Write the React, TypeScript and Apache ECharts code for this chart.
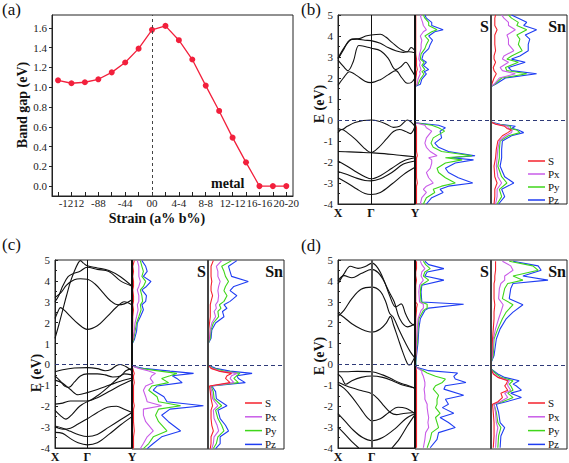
import React, { useEffect, useRef } from "react";
import * as echarts from "echarts";

const FONT = "Liberation Serif";

// ---------- panel (a) ----------
const strain = [-14, -12, -10, -8, -6, -4, -2, 0, 2, 4, 6, 8, 10, 12, 14, 16, 18, 20];
const bandGap = [1.07, 1.04, 1.05, 1.08, 1.15, 1.25, 1.39, 1.58, 1.62, 1.475, 1.28, 1.016, 0.76, 0.49, 0.24, 0, 0, 0];
const strainTickValues = [-12, -8, -4, 0, 4, 8, 12, 16, 20];
const strainTickLabels = ["-1212", "-88", "-44", "00", "4-4", "8-8", "12-12", "16-16", "20-20"];
const gapTickValues = [0, 0.2, 0.4, 0.6, 0.8, 1.0, 1.2, 1.4, 1.6];

const kLabels = ["X", "Γ", "Y"];
const dosNames = ["S", "Px", "Py", "Pz"];

// ---------- panel (b) bands ----------
const bBands = [
  [[0, 1.65], [0.07, 2.0], [0.15, 2.3], [0.25, 2.1], [0.35, 1.85], [0.43, 1.78], [0.55, 1.92], [0.65, 2.15], [0.75, 2.35], [0.83, 2.0], [0.9, 1.75], [0.95, 1.78], [1, 2.0]],
  [[0, 2.85], [0.07, 2.55], [0.13, 2.35], [0.2, 2.8], [0.27, 3.55], [0.35, 3.5], [0.43, 3.42], [0.55, 3.3], [0.65, 2.95], [0.75, 2.4], [0.82, 2.55], [0.88, 2.75], [0.95, 2.4], [1, 2.1]],
  [[0, 2.9], [0.08, 3.4], [0.15, 3.8], [0.25, 3.85], [0.35, 3.8], [0.43, 3.78], [0.55, 3.65], [0.65, 3.45], [0.75, 3.3], [0.85, 3.22], [0.92, 3.25], [1, 3.2]],
  [[0, 2.95], [0.1, 3.55], [0.18, 3.85], [0.28, 3.88], [0.36, 4.0], [0.43, 4.05], [0.55, 4.08], [0.62, 3.95], [0.7, 3.7], [0.8, 3.4], [0.9, 3.25], [0.95, 3.45], [1, 3.3]],
  [[0, -0.4], [0.05, -0.45], [0.12, -0.3], [0.22, -0.12], [0.33, -0.02], [0.43, 0], [0.53, -0.06], [0.63, -0.2], [0.72, -0.35], [0.8, -0.3], [0.86, -0.1], [0.9, 0], [0.95, -0.1], [1, -0.3]],
  [[0, -0.6], [0.05, -0.45], [0.12, -0.6], [0.22, -0.9], [0.33, -1.3], [0.43, -1.55], [0.53, -1.3], [0.63, -0.9], [0.72, -0.55], [0.8, -0.45], [0.88, -0.55], [0.94, -0.65], [1, -0.3]],
  [[0, -1.5], [0.15, -1.52], [0.3, -1.54], [0.43, -1.56], [0.6, -1.6], [0.8, -1.68], [1, -1.75]],
  [[0, -1.95], [0.12, -2.2], [0.25, -2.5], [0.35, -2.7], [0.43, -2.8], [0.55, -2.65], [0.7, -2.3], [0.85, -1.95], [1, -1.8]],
  [[0, -2.45], [0.12, -2.6], [0.25, -2.78], [0.35, -2.88], [0.43, -2.9], [0.55, -2.8], [0.7, -2.5], [0.85, -2.1], [1, -1.95]],
  [[0, -2.75], [0.12, -3.0], [0.25, -3.3], [0.35, -3.5], [0.43, -3.55], [0.55, -3.45], [0.7, -3.05], [0.85, -2.6], [1, -2.25]],
];

// ---------- panel (b) DOS ----------
const bS_E = [-4.0, -3.7, -3.45, -3.3, -3.15, -3.0, -2.75, -2.5, -2.3, -2.05, -1.9, -1.8, -1.7, -1.5, -1.3, -1.1, -0.85, -0.53, -0.37, -0.25, -0.13, 1.6, 1.7, 1.95, 2.2, 2.3, 2.4, 2.6, 2.75, 2.9, 3.15, 3.4, 3.6, 3.8, 4.0, 4.2, 4.3, 4.5, 4.65, 4.85, 5.0];
const bS_Pz = [15, 22, 37, 33, 44, 76, 57, 44, 40, 53, 77, 48, 79, 44, 31, 26, 35, 33, 40, 31, 0, 0, 7, 9, 15, 12, 18, 11, 15, 9, 11, 18, 20, 23, 18, 26, 37, 22, 22, 15, 13];
const bS_Py = [11, 15, 26, 24, 35, 53, 40, 31, 29, 40, 62, 40, 75, 35, 24, 21, 24, 39, 31, 22, 0, 0, 4, 7, 12, 9, 13, 9, 12, 7, 8, 13, 15, 18, 13, 22, 29, 18, 18, 13, 11];
const bS_Px = [7, 9, 15, 11, 15, 24, 18, 15, 20, 22, 22, 18, 29, 20, 15, 13, 15, 22, 15, 13, 0, 0, 3, 4, 7, 6, 8, 6, 7, 5, 6, 8, 8, 9, 7, 11, 15, 11, 10, 8, 7];
const bS_S = [2, 2, 2, 2, 2, 3, 2, 2, 2, 2, 2, 2, 3, 2, 2, 2, 2, 2, 2, 1, 0, 0, 1, 1, 2, 2, 3, 2, 2, 2, 1, 1, 1, 1, 1, 1, 1, 1, 1, 1, 1];

const bSn_E = [-4.0, -3.65, -3.3, -3.0, -2.7, -2.2, -1.8, -1.4, -1.0, -0.75, -0.6, -0.48, -0.4, -0.3, -0.2, -0.1, 1.6, 1.7, 2.0, 2.2, 2.35, 2.5, 2.75, 2.9, 3.05, 3.3, 3.6, 3.85, 4.05, 4.3, 4.5, 4.65, 4.85, 5.0];
const bSn_Pz = [10, 18, 14, 30, 18, 12, 14, 14, 15, 27, 43, 36, 27, 32, 12, 0, 0, 6, 19, 60, 27, 23, 45, 27, 38, 49, 49, 51, 45, 60, 43, 47, 36, 27];
const bSn_Py = [8, 14, 11, 21, 14, 9, 11, 11, 12, 23, 38, 34, 25, 26, 9, 0, 0, 5, 14, 47, 21, 19, 36, 21, 27, 41, 36, 38, 34, 47, 34, 36, 27, 23];
const bSn_Px = [6, 8, 8, 14, 9, 7, 8, 9, 11, 19, 27, 28, 23, 22, 8, 0, 0, 4, 11, 32, 15, 12, 23, 15, 17, 30, 23, 23, 21, 32, 23, 23, 17, 14];
const bSn_S = [4, 5, 5, 8, 5, 4, 6, 7, 9, 15, 22, 27, 21, 18, 6, 0, 0, 1, 4, 7, 4, 3, 6, 4, 4, 6, 5, 5, 5, 8, 5, 5, 5, 6];

// ---------- panel (c) bands ----------
const cBands = [
  [[0, 1.25], [0.05, 1.9], [0.1, 2.6], [0.15, 3.3], [0.2, 3.95], [0.25, 4.45], [0.3, 4.85], [0.33, 4.97], [0.37, 4.85], [0.42, 4.72], [0.55, 4.62], [0.7, 4.5], [0.85, 4.2], [1, 3.75]],
  [[0, 3.0], [0.05, 3.3], [0.1, 3.75], [0.17, 4.2], [0.24, 4.35], [0.32, 4.45], [0.42, 4.65], [0.55, 4.55], [0.7, 4.45], [0.85, 4.0], [1, 3.75]],
  [[0, 3.2], [0.08, 3.45], [0.15, 3.8], [0.25, 4.05], [0.33, 4.1], [0.42, 4.08], [0.52, 3.85], [0.62, 3.45], [0.72, 3.05], [0.82, 2.85], [0.9, 2.9], [1, 3.1]],
  [[0, 2.2], [0.04, 2.55], [0.07, 2.72], [0.12, 2.6], [0.2, 2.3], [0.3, 1.95], [0.42, 1.68], [0.55, 1.85], [0.68, 2.3], [0.8, 2.75], [0.9, 3.0], [1, 2.85]],
  [[0, -0.35], [0.1, -0.25], [0.25, -0.17], [0.42, -0.15], [0.55, -0.2], [0.65, -0.3], [0.72, -0.25], [0.8, -0.05], [0.85, 0], [0.92, -0.1], [1, -0.3]],
  [[0, -0.55], [0.07, -0.8], [0.13, -1.05], [0.18, -1.1], [0.25, -0.85], [0.33, -0.55], [0.42, -0.45], [0.55, -0.45], [0.65, -0.5], [0.75, -0.6], [0.85, -0.55], [0.92, -0.3], [1, -0.2]],
  [[0, -0.75], [0.1, -0.9], [0.2, -1.2], [0.3, -1.45], [0.42, -1.35], [0.55, -1.2], [0.7, -1.0], [0.85, -0.8], [1, -0.65]],
  [[0, -1.9], [0.1, -1.85], [0.2, -1.75], [0.3, -1.75], [0.42, -1.75], [0.55, -1.5], [0.7, -1.05], [0.82, -0.65], [0.9, -0.45], [1, -0.5]],
  [[0, -2.2], [0.07, -2.45], [0.14, -2.62], [0.22, -2.4], [0.32, -2.0], [0.42, -1.78], [0.55, -1.6], [0.7, -1.3], [0.85, -1.0], [1, -0.75]],
  [[0, -3.0], [0.1, -3.1], [0.2, -3.05], [0.3, -2.85], [0.42, -2.6], [0.55, -2.3], [0.68, -2.05], [0.8, -2.0], [0.9, -2.15], [1, -2.3]],
  [[0, -2.95], [0.1, -3.05], [0.2, -3.2], [0.3, -3.35], [0.42, -3.45], [0.55, -3.35], [0.7, -3.0], [0.85, -2.65], [1, -2.3]],
  [[0, -3.25], [0.1, -3.3], [0.2, -3.55], [0.3, -3.75], [0.42, -3.85], [0.55, -3.75], [0.7, -3.35], [0.85, -2.9], [1, -2.5]],
];

// ---------- panel (c) DOS ----------
const cS_E = [-3.98, -3.74, -3.42, -3.14, -2.7, -2.39, -2.1, -1.94, -1.75, -1.51, -1.2, -1.0, -0.84, -0.64, -0.51, -0.4, -0.29, -0.16, -0.05, 0.99, 1.2, 1.6, 2.0, 2.3, 2.63, 2.87, 3.03, 3.3, 3.58, 3.74, 3.98, 4.22, 4.46, 4.7, 4.97];
const cS_Pz = [20, 28, 39, 64, 48, 39, 50, 94, 46, 42, 28, 33, 66, 59, 53, 81, 50, 15, 0, 0, 3, 6, 7, 11, 15, 13, 18, 19, 13, 19, 25, 15, 20, 18, 13];
const cS_Py = [15, 22, 28, 46, 35, 31, 35, 64, 35, 33, 22, 26, 48, 39, 50, 59, 37, 11, 0, 0, 2, 4, 6, 9, 12, 11, 14, 13, 11, 15, 18, 13, 15, 13, 11];
const cS_Px = [11, 15, 20, 28, 18, 15, 15, 39, 20, 18, 15, 18, 28, 24, 26, 31, 22, 9, 0, 0, 1, 3, 4, 6, 8, 7, 9, 9, 7, 9, 11, 9, 9, 9, 7];
const cS_S = [2, 2, 2, 3, 2, 2, 2, 3, 2, 2, 2, 2, 3, 2, 2, 3, 2, 1, 0, 0, 1, 1, 1, 1, 2, 1, 2, 2, 1, 2, 2, 1, 2, 1, 3];

const cSn_E = [-3.98, -3.74, -3.42, -3.14, -2.87, -2.55, -2.15, -1.94, -1.6, -1.27, -1.0, -0.84, -0.64, -0.51, -0.4, -0.29, -0.16, 0.0, 1.0, 1.27, 1.67, 2.0, 2.3, 2.55, 2.7, 2.87, 3.03, 3.3, 3.54, 3.74, 3.98, 4.22, 4.46, 4.7, 4.97];
const cSn_Pz = [10, 16, 16, 27, 23, 16, 13, 25, 11, 10, 5, 49, 40, 38, 58, 29, 10, 0, 0, 4, 5, 10, 21, 19, 25, 21, 29, 38, 29, 34, 53, 31, 29, 27, 38];
const cSn_Py = [7, 11, 13, 21, 18, 13, 10, 18, 8, 7, 4, 40, 34, 38, 42, 21, 7, 0, 0, 3, 4, 7, 14, 13, 17, 15, 21, 25, 21, 23, 27, 23, 21, 18, 31];
const cSn_Px = [5, 7, 8, 14, 12, 8, 7, 13, 6, 5, 3, 34, 29, 31, 38, 16, 5, 0, 0, 2, 3, 5, 10, 8, 11, 10, 13, 14, 13, 14, 16, 13, 13, 11, 18];
const cSn_S = [3, 4, 4, 7, 5, 4, 4, 6, 4, 3, 2, 29, 23, 25, 31, 14, 4, 0, 0, 1, 1, 2, 3, 3, 3, 3, 4, 6, 4, 4, 5, 4, 4, 4, 7];

// ---------- panel (d) bands ----------
const dBands = [
  [[0, 2.45], [0.08, 2.25], [0.18, 1.95], [0.3, 1.7], [0.44, 1.55], [0.55, 1.7], [0.63, 2.0], [0.68, 2.3], [0.72, 1.9], [0.78, 1.25], [0.84, 0.6], [0.9, 0.05], [0.93, -0.03], [0.97, 0.15], [1, 0.4]],
  [[0, 2.3], [0.08, 2.6], [0.18, 3.15], [0.3, 3.6], [0.44, 3.7], [0.55, 3.5], [0.62, 3.0], [0.67, 2.45], [0.72, 2.25], [0.8, 1.6], [0.88, 1.0], [0.94, 0.6], [1, 0.3]],
  [[0, 3.85], [0.08, 4.35], [0.16, 4.7], [0.26, 4.6], [0.36, 4.7], [0.44, 4.85], [0.52, 4.6], [0.6, 4.0], [0.67, 3.3], [0.75, 2.75], [0.82, 2.9], [0.88, 2.4], [0.94, 2.0], [1, 1.85]],
  [[0, 4.0], [0.08, 4.25], [0.18, 4.15], [0.3, 4.35], [0.44, 4.55], [0.52, 4.4], [0.58, 4.1], [0.66, 3.5], [0.73, 3.0], [0.8, 2.2], [0.9, 1.8], [1, 1.95]],
  [[0, -0.35], [0.1, -0.35], [0.25, -0.33], [0.44, -0.35], [0.58, -0.5], [0.7, -0.7], [0.8, -0.88], [0.9, -1.0], [1, -1.15]],
  [[0, -0.45], [0.05, -0.65], [0.1, -0.95], [0.18, -0.78], [0.3, -0.62], [0.44, -0.55], [0.58, -0.62], [0.72, -0.8], [0.85, -1.0], [1, -1.12]],
  [[0, -0.85], [0.08, -0.98], [0.18, -1.12], [0.3, -1.25], [0.44, -1.4], [0.52, -1.65], [0.6, -2.0], [0.68, -2.3], [0.76, -2.4], [0.85, -2.35], [1, -2.3]],
  [[0, -0.95], [0.08, -1.15], [0.18, -1.55], [0.3, -2.15], [0.38, -2.55], [0.44, -2.7], [0.55, -2.6], [0.66, -2.3], [0.78, -2.05], [0.88, -2.1], [1, -2.35]],
  [[0, -2.35], [0.1, -2.75], [0.2, -3.15], [0.32, -3.5], [0.44, -3.65], [0.58, -3.5], [0.75, -3.05], [0.88, -2.6], [1, -2.35]],
  [[0, -3.0], [0.08, -3.3], [0.18, -3.7], [0.27, -4.0]],
  [[0.7, -4.0], [0.8, -3.55], [0.9, -2.95], [1, -2.4]],
];

// ---------- panel (d) DOS ----------
const dS_E = [-3.94, -3.54, -3.22, -2.98, -2.74, -2.5, -2.3, -2.03, -1.87, -1.63, -1.44, -1.15, -0.99, -0.83, -0.67, -0.54, -0.38, -0.27, -0.11, 0.1, 0.45, 1.08, 1.72, 2.2, 2.6, 2.71, 2.89, 3.0, 3.48, 3.8, 4.04, 4.24, 4.43, 4.59, 4.78, 4.94];
const dS_Pz = [20, 29, 31, 53, 44, 33, 51, 36, 44, 40, 64, 38, 40, 67, 53, 51, 56, 18, 2, 1, 2, 4, 5, 7, 13, 18, 64, 9, 8, 9, 38, 13, 16, 38, 18, 13];
const dS_Py = [16, 20, 22, 31, 29, 27, 33, 27, 29, 29, 31, 24, 27, 36, 40, 27, 16, 11, 1, 1, 1, 3, 4, 5, 11, 16, 16, 8, 7, 8, 18, 11, 13, 20, 14, 11];
const dS_Px = [11, 13, 14, 18, 17, 18, 17, 16, 16, 13, 13, 12, 13, 13, 12, 11, 9, 9, 1, 0, 1, 2, 3, 4, 8, 11, 11, 6, 5, 6, 11, 8, 9, 13, 9, 7];
const dS_S = [2, 2, 2, 2, 2, 2, 2, 2, 2, 2, 2, 2, 2, 2, 2, 2, 2, 2, 1, 0, 1, 1, 1, 1, 2, 2, 3, 1, 1, 1, 2, 1, 1, 2, 2, 2];

const dSn_E = [-3.94, -3.38, -2.98, -2.74, -2.26, -1.87, -1.75, -1.55, -1.34, -1.2, -0.99, -0.91, -0.75, -0.59, -0.43, -0.19, 0.1, 0.45, 1.24, 1.72, 2.2, 2.52, 2.87, 3.16, 3.64, 3.88, 4.04, 4.24, 4.51, 4.72, 4.94];
const dSn_Pz = [12, 13, 18, 12, 10, 7, 20, 40, 26, 40, 33, 29, 37, 18, 9, 0, 0, 4, 7, 12, 20, 29, 42, 24, 26, 29, 75, 42, 66, 62, 29];
const dSn_Py = [9, 10, 13, 9, 7, 4, 15, 29, 22, 29, 26, 24, 29, 13, 7, 0, 0, 3, 4, 9, 15, 20, 29, 15, 18, 22, 42, 29, 62, 55, 24];
const dSn_Px = [6, 7, 9, 7, 6, 4, 12, 22, 18, 26, 22, 22, 24, 10, 4, 0, 0, 2, 3, 6, 10, 13, 16, 10, 11, 13, 18, 18, 29, 26, 15];
const dSn_S = [3, 4, 4, 4, 3, 2, 9, 15, 13, 22, 18, 20, 22, 9, 3, 0, 0, 1, 2, 3, 4, 4, 5, 4, 4, 4, 5, 5, 6, 6, 6];

const COLORS = { S: "#f5222d", Px: "#c95ce8", Py: "#3fd61a", Pz: "#1f3df2" };

const panels = [
  {
    tag: "(b)", tagX: 301, tagY: 9, x0: 338, top: 15, gamma: 0.43, bands: bBands, gammaColor: "#111", gammaWidth: 1,
    S: { E: bS_E, S: bS_S, Px: bS_Px, Py: bS_Py, Pz: bS_Pz },
    Sn: { E: bSn_E, S: bSn_S, Px: bSn_Px, Py: bSn_Py, Pz: bSn_Pz },
    eLabelY: 104, legendTop: 161, legendStep: 13,
  },
  {
    tag: "(c)", tagX: 2, tagY: 244, x0: 55, top: 260, gamma: 0.42, bands: cBands, gammaColor: "#111", gammaWidth: 1,
    S: { E: cS_E, S: cS_S, Px: cS_Px, Py: cS_Py, Pz: cS_Pz },
    Sn: { E: cSn_E, S: cSn_S, Px: cSn_Px, Py: cSn_Py, Pz: cSn_Pz },
    eLabelY: 373, legendTop: 403, legendStep: 13.8,
  },
  {
    tag: "(d)", tagX: 301, tagY: 245, x0: 338, top: 260, gamma: 0.44, bands: dBands, gammaColor: "#555", gammaWidth: 2,
    S: { E: dS_E, S: dS_S, Px: dS_Px, Py: dS_Py, Pz: dS_Pz },
    Sn: { E: dSn_E, S: dSn_S, Px: dSn_Px, Py: dSn_Py, Pz: dSn_Pz },
    eLabelY: 356, legendTop: 403, legendStep: 13.8,
  },
];

function text(x: number, y: number, t: string, size: number, opts: any = {}) {
  return {
    type: "text",
    x,
    y,
    rotation: opts.rotation || 0,
    silent: true,
    style: {
      text: t,
      fill: "#111",
      fontFamily: FONT,
      fontSize: size,
      fontWeight: opts.bold ? "bold" : "normal",
      align: opts.align || "left",
      verticalAlign: opts.valign || "middle",
      textAlign: opts.align || "left",
      textVerticalAlign: opts.valign || "middle",
    },
  };
}

function buildOption() {
  const grid: any[] = [];
  const xAxis: any[] = [];
  const yAxis: any[] = [];
  const series: any[] = [];
  const graphic: any[] = [];
  const frame = { show: true, borderColor: "#222", borderWidth: 1, backgroundColor: "transparent" };

  // ----- (a) -----
  grid.push({ left: 52, top: 15, width: 241, height: 181, ...frame });
  xAxis.push({
    gridIndex: 0, type: "value", min: -14.9, max: 21,
    splitLine: { show: false },
    axisLine: { onZero: false, lineStyle: { color: "#222" } },
    axisTick: { inside: true, length: 4, customValues: strain, lineStyle: { color: "#222" } },
    axisLabel: {
      customValues: strainTickValues,
      formatter: (v: number) => strainTickLabels[strainTickValues.indexOf(v)],
      fontFamily: FONT, fontSize: 11, color: "#222", margin: 1,
    },
  });
  yAxis.push({
    gridIndex: 0, type: "value", min: -0.1, max: 1.73,
    splitLine: { show: false },
    axisLine: { onZero: false, lineStyle: { color: "#222" } },
    axisTick: { inside: false, length: 3, customValues: gapTickValues, lineStyle: { color: "#222" } },
    axisLabel: {
      customValues: gapTickValues,
      formatter: (v: number) => v.toFixed(1),
      fontFamily: FONT, fontSize: 11, color: "#222", margin: 5,
    },
  });
  series.push({
    type: "line", xAxisIndex: 0, yAxisIndex: 0,
    data: strain.map((s, i) => [s, bandGap[i]]),
    symbol: "circle", symbolSize: 6,
    itemStyle: { color: "#f2203c" },
    lineStyle: { color: "#f2203c", width: 1.3 },
    markLine: {
      silent: true, symbol: "none", label: { show: false },
      lineStyle: { type: [3, 3], color: "#444", width: 1 },
      data: [{ xAxis: 0 }],
    },
  });
  graphic.push(text(2, 9, "(a)", 17));
  graphic.push(text(211, 183, "metal", 14, { bold: true }));
  graphic.push(text(157, 218, "Strain (a% b%)", 14, { bold: true, align: "center" }));
  graphic.push(text(22, 105, "Band gap (eV)", 14, { bold: true, align: "center", rotation: Math.PI / 2 }));

  // ----- (b), (c), (d) -----
  panels.forEach((p) => {
    const gBand = grid.length;
    const H = 189;
    grid.push({ left: p.x0, top: p.top, width: 77, height: H, ...frame });
    grid.push({ left: p.x0 + 77, top: p.top, width: 76, height: H, ...frame });
    grid.push({ left: p.x0 + 153, top: p.top, width: 76, height: H, ...frame });
    const kVals = [0, p.gamma, 1];

    xAxis.push({
      gridIndex: gBand, type: "value", min: 0, max: 1,
      splitLine: { show: false },
      axisLine: { onZero: false, lineStyle: { color: "#222" } },
      axisTick: { show: false },
      axisLabel: {
        customValues: kVals,
        formatter: (v: number) => kLabels[kVals.indexOf(v)],
        fontFamily: FONT, fontSize: 12, fontWeight: "bold", color: "#111", margin: 3,
      },
    });
    yAxis.push({
      gridIndex: gBand, type: "value", min: -4, max: 5, interval: 1,
      splitLine: { show: false },
      axisLine: { onZero: false, lineStyle: { color: "#222" } },
      axisTick: { inside: true, length: 3, lineStyle: { color: "#222" } },
      minorTick: { show: true, splitNumber: 2, length: 2, lineStyle: { color: "#222" } },
      axisLabel: { fontFamily: FONT, fontSize: 11, color: "#222", margin: 5 },
    });
    for (let j = 1; j <= 2; j++) {
      xAxis.push({
        gridIndex: gBand + j, type: "value", min: 0, max: 100,
        axisLine: { show: false, onZero: false }, axisTick: { show: false }, axisLabel: { show: false }, splitLine: { show: false },
      });
      yAxis.push({
        gridIndex: gBand + j, type: "value", min: -4, max: 5, interval: 1,
        axisLine: { show: false, onZero: false }, axisTick: { show: false }, axisLabel: { show: false }, splitLine: { show: false },
      });
    }

    p.bands.forEach((b: number[][], i: number) => {
      const s: any = {
        type: "line", xAxisIndex: gBand, yAxisIndex: gBand,
        data: b, smooth: 0.35, showSymbol: false, symbol: "none",
        lineStyle: { color: "#111", width: 1.1 }, clip: true, silent: true,
      };
      if (i === 0) {
        s.markLine = {
          silent: true, symbol: "none", label: { show: false },
          data: [
            { xAxis: p.gamma, lineStyle: { type: "solid", color: p.gammaColor, width: p.gammaWidth } },
            { xAxis: 1, lineStyle: { type: "solid", color: "#111", width: 2 } },
            { yAxis: 0, lineStyle: { type: [4, 3], color: "#2e3a78", width: 1 } },
          ],
        };
      }
      series.push(s);
    });

    [p.S, p.Sn].forEach((d: any, j: number) => {
      const gi = gBand + 1 + j;
      ["Pz", "Py", "Px", "S"].forEach((name, m) => {
        const s: any = {
          type: "line", name, xAxisIndex: gi, yAxisIndex: gi,
          data: d.E.map((e: number, i: number) => [d[name][i], e]),
          showSymbol: false, symbol: "none", clip: true, silent: true,
          lineStyle: { color: (COLORS as any)[name], width: 1.1 },
          itemStyle: { color: (COLORS as any)[name] },
        };
        if (m === 0) {
          const ml: any = {
            silent: true, symbol: "none", label: { show: false },
            data: [{ yAxis: 0, lineStyle: { type: [4, 3], color: "#2e3a78", width: 1 } }],
          };
          if (j === 1) ml.data.push({ xAxis: 0, lineStyle: { type: "solid", color: "#444", width: 2 } });
          s.markLine = ml;
        }
        series.push(s);
      });
    });

    graphic.push(text(p.tagX, p.tagY, p.tag, 17));
    graphic.push(text(p.x0 - 19, p.eLabelY, "E (eV)", 14, { bold: true, align: "center", rotation: Math.PI / 2 }));
    graphic.push(text(p.x0 + 151, p.top + 11, "S", 16, { bold: true, align: "right" }));
    graphic.push(text(p.x0 + 228, p.top + 11, "Sn", 16, { bold: true, align: "right" }));
    dosNames.forEach((n, i) => {
      const y = p.legendTop + i * p.legendStep;
      graphic.push({
        type: "line", silent: true,
        shape: { x1: p.x0 + 190, y1: y, x2: p.x0 + 207, y2: y },
        style: { stroke: (COLORS as any)[n], lineWidth: 1.5 },
      });
      graphic.push(text(p.x0 + 210, y, n, 11));
    });
  });

  return {
    animation: false,
    backgroundColor: "#ffffff",
    textStyle: { fontFamily: FONT },
    grid, xAxis, yAxis, series, graphic,
  };
}

export default function App() {
  const ref = useRef<HTMLDivElement>(null);
  useEffect(() => {
    const chart = echarts.init(ref.current as HTMLDivElement, null, { renderer: "svg" });
    chart.setOption(buildOption() as any);
    return () => chart.dispose();
  }, []);
  return (
    <div
      ref={ref}
      style={{ position: "fixed", left: 0, top: 0, width: 569, height: 463, background: "#fff" }}
    />
  );
}
